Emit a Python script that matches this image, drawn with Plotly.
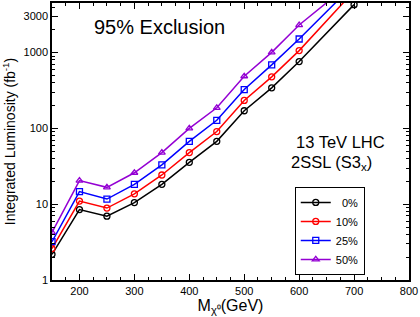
import plotly.graph_objects as go

mass = [150, 200, 250, 300, 350, 400, 450, 500, 550, 600, 700]
lumi_0 = [2.18, 8.5, 6.95, 10.5, 18.3, 35.7, 67.5, 171, 343, 763, 4300]
lumi_10 = [2.6, 11.0, 8.9, 13.7, 24.3, 48, 91, 234, 479, 1064, 6500]
lumi_25 = [3.2, 14.7, 11.7, 18.3, 33, 67.5, 128, 326, 689, 1514, 8000]
lumi_50 = [4.25, 20.5, 16.7, 26, 48, 100, 187, 488, 1009, 2313, 9000]

series_names = ["\u20070%", "10%", "25%", "50%"]
series_vals = [lumi_0, lumi_10, lumi_25, lumi_50]
colors = ["#000000", "#ff0000", "#0000ff", "#9400d3"]
symbols = ["circle-open", "circle-open", "square-open", "triangle-up-open"]

x_tickvals = [200, 300, 400, 500, 600, 700, 800]
y_tickvals = [1, 10, 100, 1000, 3000]
y_ticktext = ["1", "10", "100", "1000", "3000"]

fig = go.Figure()
for name, vals, c, s in zip(series_names, series_vals, colors, symbols):
    fig.add_trace(go.Scatter(
        x=mass, y=vals, name=name, mode="lines+markers",
        line=dict(color=c, width=1.5),
        marker=dict(symbol=s, size=6, color=c, line=dict(width=1.3, color=c)),
        cliponaxis=True,
    ))

minor_y = []
for d in [1, 10, 100, 1000]:
    for k in range(2, 10):
        minor_y.append(d * k)

font = "Liberation Sans, Arial, sans-serif"
fig.update_layout(
    width=420, height=317,
    margin=dict(l=52, r=11, t=3, b=37, autoexpand=False),
    paper_bgcolor="white", plot_bgcolor="white",
    font=dict(family=font, size=11, color="black"),
    showlegend=True,
    legend=dict(
        x=0.68, y=0.336, xanchor="left", yanchor="top",
        bordercolor="black", borderwidth=1, bgcolor="white",
        font=dict(size=11), itemwidth=30, tracegroupgap=0,
    ),
    xaxis=dict(
        range=[150, 800], tickmode="array", tickvals=x_tickvals,
        ticks="inside", ticklen=6, tickwidth=1, tickcolor="black",
        showline=True, linecolor="black", linewidth=1.5, mirror="allticks",
        showgrid=False, zeroline=False,
        minor=dict(tickmode="linear", tick0=150, dtick=25, ticks="inside", ticklen=3, tickcolor="black", showgrid=False),
        tickfont=dict(size=11),
        title=dict(text="M<sub>χ⁰</sub>(GeV)", font=dict(size=16), standoff=0),
    ),
    yaxis=dict(
        type="log", range=[0, 3.655], tickmode="array", tickvals=y_tickvals, ticktext=y_ticktext,
        ticks="inside", ticklen=6, tickwidth=1, tickcolor="black",
        showline=True, linecolor="black", linewidth=1.5, mirror="allticks",
        showgrid=False, zeroline=False,
        minor=dict(tickmode="array", tickvals=minor_y, ticks="inside", ticklen=3, tickcolor="black", showgrid=False),
        tickfont=dict(size=11),
        title=dict(text="Integrated Luminosity (fb<sup>-1</sup>)", font=dict(size=14), standoff=6),
    ),
    annotations=[
        dict(text="95% Exclusion", x=0.30, y=0.913, xref="paper", yref="paper",
             showarrow=False, font=dict(size=20), xanchor="center", yanchor="middle"),
        dict(text="13 TeV LHC", x=0.807, y=0.498, xref="paper", yref="paper",
             showarrow=False, font=dict(size=16.5), xanchor="center", yanchor="middle"),
        dict(text="2SSL (S3<sub>x</sub>)", x=0.784, y=0.422, xref="paper", yref="paper",
             showarrow=False, font=dict(size=16.5), xanchor="center", yanchor="middle"),
    ],
)

fig.write_html("out.html", config={"displayModeBar": False},
               post_script="document.body.style.margin='0';document.body.style.overflow='hidden';")
